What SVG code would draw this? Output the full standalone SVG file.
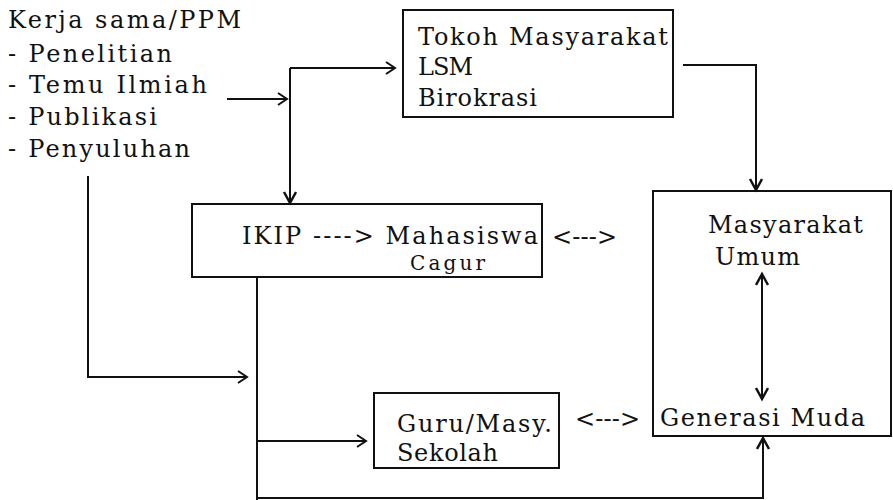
<svg xmlns="http://www.w3.org/2000/svg" width="893" height="500" viewBox="0 0 893 500">
<style>
text{font-family:"DejaVu Serif","Liberation Serif",serif;font-size:24px;fill:#111;}
.box{fill:none;stroke:#111;stroke-width:2;}
.ln{fill:none;stroke:#111;stroke-width:2;}
</style>
<defs>
<marker id="chev" markerUnits="userSpaceOnUse" markerWidth="14" markerHeight="16" refX="10" refY="7" orient="auto">
<path d="M1,1 L10,7 L1,13" fill="none" stroke="#111" stroke-width="2"/>
</marker>
<marker id="vee" markerUnits="userSpaceOnUse" markerWidth="16" markerHeight="16" refX="12" refY="7" orient="auto-start-reverse">
<path d="M1,1 L12,7 L1,13" fill="none" stroke="#111" stroke-width="2.5"/>
</marker>
</defs>
<rect width="893" height="500" fill="#fff"/>

<g id="sumber">
<text x="8" y="28" textLength="233" lengthAdjust="spacing">Kerja sama/PPM</text>
<text x="8" y="62" textLength="164" lengthAdjust="spacing">- Penelitian</text>
<text x="8" y="93" textLength="199" lengthAdjust="spacing">- Temu Ilmiah</text>
<text x="8" y="125" textLength="149" lengthAdjust="spacing">- Publikasi</text>
<text x="8" y="157" textLength="182" lengthAdjust="spacing">- Penyuluhan</text>
</g>

<g id="tokoh">
<rect class="box" x="403" y="10" width="270" height="107"/>
<text x="418" y="45" textLength="250" lengthAdjust="spacing">Tokoh Masyarakat</text>
<text x="418" y="75" textLength="55" lengthAdjust="spacing">LSM</text>
<text x="418" y="106" textLength="119" lengthAdjust="spacing">Birokrasi</text>
</g>

<g id="ikip">
<rect class="box" x="192" y="204" width="350" height="73"/>
<text x="242" y="244" textLength="296" lengthAdjust="spacing">IKIP ----&gt; Mahasiswa</text>
<text x="410" y="270" textLength="75" lengthAdjust="spacing" style="font-size:20px">Cagur</text>
</g>

<g id="masyarakat">
<rect class="box" x="653" y="191" width="238" height="245"/>
<text x="708" y="233" textLength="155" lengthAdjust="spacing">Masyarakat</text>
<text x="715" y="265" textLength="85" lengthAdjust="spacing">Umum</text>
<text x="660" y="426" textLength="205" lengthAdjust="spacing">Generasi Muda</text>
</g>

<g id="guru">
<rect class="box" x="374" y="393" width="185" height="75"/>
<text x="397" y="432" textLength="155" lengthAdjust="spacing">Guru/Masy.</text>
<text x="397" y="461" textLength="101" lengthAdjust="spacing">Sekolah</text>
</g>

<g id="connectors">
<path class="ln" d="M227,99 L287,99" marker-end="url(#chev)"/>
<path class="ln" d="M290,68 L395,68" marker-end="url(#chev)"/>
<path class="ln" d="M290,68 L290,203" marker-end="url(#vee)"/>
<path class="ln" d="M683,65 L756,65 L756,190" marker-end="url(#vee)"/>
<path class="ln" d="M88,176 L88,377 L247,377" marker-end="url(#chev)"/>
<path class="ln" d="M257,277 L257,500"/>
<path class="ln" d="M257,441 L366,441" marker-end="url(#chev)"/>
<path class="ln" d="M257,498 L763,498 L763,438" marker-end="url(#vee)"/>
<path class="ln" d="M762,274 L762,399" marker-start="url(#vee)" marker-end="url(#vee)"/>
<text x="552" y="245" textLength="65" lengthAdjust="spacing">&lt;---&gt;</text>
<text x="575" y="427" textLength="65" lengthAdjust="spacing">&lt;---&gt;</text>
</g>
</svg>
